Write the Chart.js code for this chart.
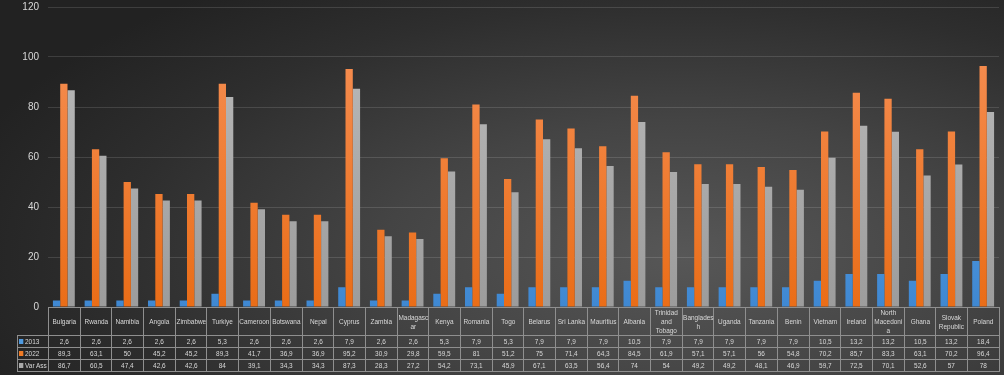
<!DOCTYPE html>
<html>
<head>
<meta charset="utf-8">
<script src="https://cdn.jsdelivr.net/npm/chart.js@4"></script>
<style>
  html, body { margin: 0; padding: 0; }
  #wrap {
    position: relative;
    width: 1004px;
    height: 375px;
    overflow: hidden;
    background: radial-gradient(ellipse 75% 90% at 68% 68%, #575757 0%, #444 40%, #2e2e2e 75%, #222 100%);
  }
  /* canvas shifted up so the plot top lands where the original's does */
  #chart { position: absolute; left: 0; top: -8px; }
  #dataTable {
    position: absolute;
    border-collapse: collapse;
    table-layout: fixed;
    font-family: "Liberation Sans", Arial, sans-serif;
    font-size: 7.5px;
    color: #d9d9d9;
  }
  #dataTable td {
    border: 1px solid #8f8f8f;
    text-align: center;
    padding: 0;
    line-height: 9px;
    white-space: nowrap;
  }
  #dataTable td span.t {
    display: block;
    margin: 0 -5px;
    transform: scaleX(0.86);
  }
  #dataTable tr.head td { height: 27px; }
  #dataTable tr.head td.blank { border: none; }
  #dataTable tr.row td { height: 11px; }
  #dataTable td.key { text-align: left; padding-left: 1px; }
  #dataTable td.key span.t { margin: 0; transform-origin: left center; }
  .sw { display: inline-block; width: 5px; height: 5px; margin-right: 2px; vertical-align: 0; }
</style>
</head>
<body>
<div id="wrap">
  <canvas id="chart" width="1004" height="383"></canvas>
  <table id="dataTable"></table>
</div>
<script>
const categories = [
    'Bulgaria', 'Rwanda', 'Namibia', 'Angola', 'Zimbabwe', 'Turkiye', 'Cameroon', 'Botswana', 'Nepal', 'Cyprus',
    'Zambia', ['Madagasc', 'ar'], 'Kenya', 'Romania', 'Togo', 'Belarus', 'Sri Lanka', 'Mauritius', 'Albania',
    ['Trinidad', 'and', 'Tobago'], ['Banglades', 'h'], 'Uganda', 'Tanzania', 'Benin', 'Vietnam', 'Ireland',
    ['North', 'Macedoni', 'a'], 'Ghana', ['Slovak', 'Republic'], 'Poland'
];

const values2013 = [2.6, 2.6, 2.6, 2.6, 2.6, 5.3, 2.6, 2.6, 2.6, 7.9, 2.6, 2.6, 5.3, 7.9, 5.3, 7.9, 7.9, 7.9, 10.5, 7.9,
    7.9, 7.9, 7.9, 7.9, 10.5, 13.2, 13.2, 10.5, 13.2, 18.4];
const values2022 = [89.3, 63.1, 50, 45.2, 45.2, 89.3, 41.7, 36.9, 36.9, 95.2, 30.9, 29.8, 59.5, 81, 51.2, 75, 71.4, 64.3, 84.5, 61.9,
    57.1, 57.1, 56, 54.8, 70.2, 85.7, 83.3, 63.1, 70.2, 96.4];
const valuesVarAss = [86.7, 60.5, 47.4, 42.6, 42.6, 84, 39.1, 34.3, 34.3, 87.3, 28.3, 27.2, 54.2, 73.1, 45.9, 67.1, 63.5, 56.4, 74, 54,
    49.2, 49.2, 48.1, 46.9, 59.7, 72.5, 70.1, 52.6, 57, 78];

const seriesNames = ['2013', '2022', 'Var Ass'];
const yTicks = [0, 20, 40, 60, 80, 100, 120];

// vertical gradient for each bar colour (lighter top, darker bottom)
const barFill = (top, bottom) => (context) => {
    const area = context.chart.chartArea;
    if (!area) return bottom;
    const g = context.chart.ctx.createLinearGradient(0, area.top, 0, area.bottom);
    g.addColorStop(0, top);
    g.addColorStop(1, bottom);
    return g;
};

const colors = ['#4f9ae0', '#f07b25', '#a9a9a9'];
const canvasShift = 8;

const ctx = document.getElementById('chart').getContext('2d');
const chart = new Chart(ctx, {
    type: 'bar',
    data: {
        labels: categories,
        datasets: [
            { label: seriesNames[0], data: values2013, backgroundColor: barFill('#66aef0', '#3f88d2') },
            { label: seriesNames[1], data: values2022, backgroundColor: barFill('#f7925a', '#ea6d17') },
            { label: seriesNames[2], data: valuesVarAss, backgroundColor: barFill('#bdbdbd', '#9c9c9c') }
        ]
    },
    options: {
        responsive: false,
        animation: false,
        layout: { padding: { top: 0, right: 5, bottom: 68, left: 0 } },
        datasets: {
            bar: { categoryPercentage: 0.69, barPercentage: 1, borderWidth: 0 }
        },
        plugins: {
            legend: { display: false },
            tooltip: { enabled: false }
        },
        scales: {
            x: { display: false },
            y: {
                min: 0,
                max: 120,
                afterBuildTicks: (axis) => { axis.ticks = yTicks.map(v => ({ value: v })); },
                afterFit: (axis) => { axis.width = 48; },
                border: { display: false },
                grid: { color: 'rgba(255, 255, 255, 0.13)', drawTicks: false },
                ticks: {
                    color: '#d9d9d9',
                    padding: 9,
                    font: { family: 'Liberation Sans', size: 10 }
                }
            }
        }
    }
});

// data table under the plot, columns lined up with the category scale
function buildTable() {
    const area = chart.chartArea;
    const table = document.getElementById('dataTable');
    const colW = (area.right - area.left) / categories.length;
    const keyW = 31;
    table.style.left = (area.left - keyW) + 'px';
    table.style.top = Math.round(area.bottom - canvasShift) + 'px';
    table.style.width = (keyW + colW * categories.length) + 'px';

    let html = '<colgroup><col style="width:' + keyW + 'px">';
    categories.forEach(() => { html += '<col style="width:' + colW + 'px">'; });
    html += '</colgroup>';

    html += '<tr class="head"><td class="blank"></td>';
    categories.forEach(c => {
        const lines = Array.isArray(c) ? c : [c];
        html += '<td><span class="t">' + lines.join('<br>') + '</span></td>';
    });
    html += '</tr>';

    const rows = [values2013, values2022, valuesVarAss];
    rows.forEach((vals, i) => {
        html += '<tr class="row"><td class="key"><span class="t"><span class="sw" style="background:' + colors[i] + '"></span>' + seriesNames[i] + '</span></td>';
        vals.forEach(v => { html += '<td><span class="t">' + String(v).replace('.', ',') + '</span></td>'; });
        html += '</tr>';
    });
    table.innerHTML = html;
}
buildTable();
</script>
</body>
</html>
